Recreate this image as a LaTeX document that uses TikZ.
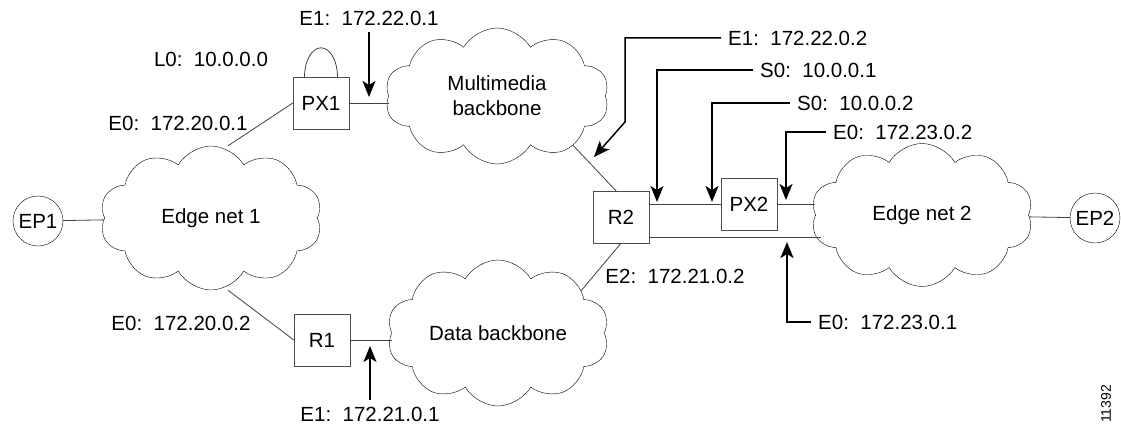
\documentclass[tikz,border=0pt]{standalone}
\usepackage{fontspec}
\setmainfont{Liberation Sans}
\usetikzlibrary{shapes.symbols,arrows.meta}

\begin{document}
\begin{tikzpicture}[
		x=1pt, y=-1pt,
		font=\fontsize{20.5pt}{25pt}\selectfont,
		net/.style={cloud, draw, cloud puffs=10, cloud puff arc=120, cloud ignores aspect, align=center, inner sep=0pt},
		router/.style={draw=black!70, minimum width=56pt, minimum height=52pt, inner sep=0pt},
		endpoint/.style={circle, draw, minimum size=50pt, inner sep=0pt},
		addr/.style={inner sep=0pt},
		link/.style={black!75, line width=0.8pt},
		pointer/.style={line width=1.5pt, -{Stealth[length=16pt,width=13pt,inset=4pt]}, shorten <=7pt}
	]
	\useasboundingbox (0,0) rectangle (1121,428);

	\node[endpoint] (ep1) at (38,221) {EP1};
	\node[net, minimum width=222pt, minimum height=144pt] (edge1) at (211,218) {Edge net 1};
	\node[router] (px1) at (321,103) {PX1};
	\node[router] (r1) at (322,340) {R1};
	\node[net, minimum width=224pt, minimum height=136pt] (mm) at (497,96) {Multimedia\\backbone};
	\node[net, minimum width=222pt, minimum height=146pt] (data) at (498,333) {Data backbone};
	\node[router] (r2) at (621,217) {R2};
	\node[router] (px2) at (749,204) {PX2};
	\node[net, minimum width=222pt, minimum height=143pt] (edge2) at (922,215) {Edge net 2};
	\node[endpoint] (ep2) at (1095,218) {EP2};

	\draw[link] (ep1) -- (edge1);
	\draw[link] ([xshift=17pt]edge1.north) -- (px1.west);
	\draw[link] ([xshift=-16.5pt]px1.north) arc[start angle=180, end angle=0, x radius=16.5pt, y radius=29pt];
	\draw[link] (px1.east) -- (px1.east -| mm.west);
	\draw[link] ([xshift=17pt]edge1.south) -- (r1.west);
	\draw[link] (r1.east) -- (r1.east -| data.west);
	\draw[link] (mm.-33) -- ([xshift=-5pt]r2.north);
	\draw[link] (data.27) -- (r2.south);
	\draw[link] (px2.west -| r2.east) -- (px2.west);
	\draw[link] (px2.east) -- (px2.east -| edge2.west);
	\draw[link] ([yshift=-20pt]r2.east) -- ([yshift=-20pt,xshift=6pt]r2.east -| edge2.west);
	\draw[link] (edge2) -- (ep2);

	\node[addr] (lL0) at (211,59) {L0:~~10.0.0.0};
	\node[addr] (lE0a) at (178,123) {E0:~~172.20.0.1};
	\node[addr] (lE0b) at (181,323) {E0:~~172.20.0.2};
	\node[addr] (lE1a) at (369,18) {E1:~~172.22.0.1};
	\node[addr] (lE1b) at (370,414) {E1:~~172.21.0.1};
	\node[addr] (lE2) at (675,276) {E2:~~172.21.0.2};
	\node[addr, anchor=west] (lE1c) at (728,38) {E1:~~172.22.0.2};
	\node[addr, anchor=west] (lS0a) at (760,70) {S0:~~10.0.0.1};
	\node[addr, anchor=west] (lS0b) at (797,103) {S0:~~10.0.0.2};
	\node[addr, anchor=west] (lE0c) at (833,132) {E0:~~172.23.0.2};
	\node[addr, anchor=west] (lE0d) at (818,322) {E0:~~172.23.0.1};
	\node[addr, rotate=90, font=\fontsize{14pt}{16pt}\selectfont] (fig) at (1106,404) {11392};

	\coordinate (tE1a) at (369,97);
	\coordinate (tE1b) at (370,346);
	\coordinate (bE1c) at (625,122);
	\coordinate (tE1c) at (594,157);
	\coordinate (tS0a) at (657,202);
	\coordinate (tS0b) at (712,202);
	\coordinate (tE0c) at (786,200);
	\coordinate (tE0d) at (787,242);

	\draw[pointer] (lE1a.south) -- (tE1a);
	\draw[pointer] (lE1b.north) -- (tE1b);
	\draw[pointer] (lE1c.west) -| (bE1c) -- (tE1c);
	\draw[pointer] (lS0a.west) -| (tS0a);
	\draw[pointer] (lS0b.west) -| (tS0b);
	\draw[pointer] (lE0c.west) -| (tE0c);
	\draw[pointer] (lE0d.west) -| (tE0d);
\end{tikzpicture}
\end{document}
